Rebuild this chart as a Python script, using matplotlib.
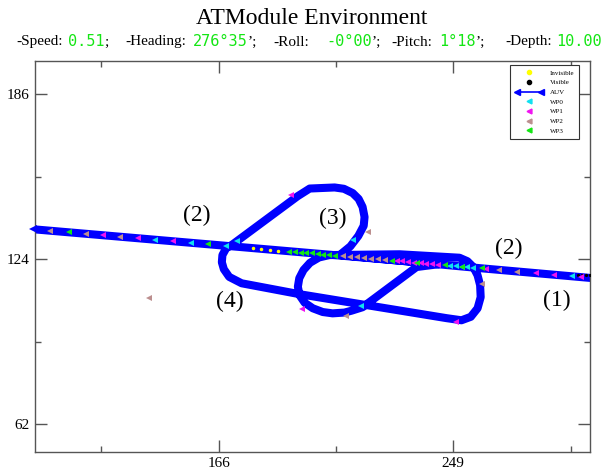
'''
Plot the ATModule environment view: AUV track, waypoints and status line
'''

import matplotlib
matplotlib.use('Agg')
from matplotlib import pyplot
from matplotlib.lines import Line2D
from matplotlib.legend_handler import HandlerLine2D

# AUV track (x, y in map units)
track_x = [297.6, 258.2, 208.8, 212.6, 215.4, 217.3, 217.6, 216.9, 215.5, 213.4, 210.3,
           207.0, 198.2, 193.9, 171.0, 168.6, 167.3, 167.1, 167.8, 169.7, 174.1, 194.6,
           246.6, 251.9, 255.2, 257.6, 258.7, 258.5, 257.6, 256.1, 254.0, 251.2, 230.0,
           205.2, 201.5, 198.3, 196.0, 194.5, 194.0, 194.6, 196.4, 199.3, 202.8, 206.3,
           210.5, 213.0, 216.9, 236.0, 244.1, 100.3]
track_y = [116.9, 120.6, 125.5, 128.8, 132.7, 136.5, 139.8, 143.6, 146.6, 148.8, 150.4,
           150.9, 150.5, 147.6, 129.6, 128.0, 125.5, 122.8, 120.2, 117.3, 114.9, 110.8,
           101.8, 101.0, 102.3, 105.5, 109.7, 114.2, 117.9, 121.0, 123.2, 124.5, 125.8,
           125.5, 124.6, 122.6, 119.9, 116.8, 113.6, 110.4, 107.6, 105.5, 104.1, 103.6,
           103.9, 104.6, 105.9, 121.0, 122.1, 135.2]

# waypoints seen along the track
wp0_x = [143.4, 156.1, 168.5, 172.4, 213.4, 216.5, 248.0, 250.0, 252.0, 254.0, 256.0, 291.1]
wp0_y = [131.2, 130.0, 128.9, 130.7, 131.1, 106.3, 121.5, 121.3, 121.1, 120.9, 120.8, 117.5]

wp1_x = [125.0, 137.4, 149.8, 191.5, 195.3, 229.0, 231.0, 233.0, 235.0, 237.5, 239.5,
         241.5, 243.5, 250.1, 260.5, 278.4, 284.7, 294.3]
wp1_y = [132.9, 131.8, 130.6, 148.0, 105.2, 123.3, 123.1, 122.9, 122.7, 122.5, 122.3,
         122.1, 121.9, 100.3, 120.3, 118.7, 118.1, 117.2]

wp2_x = [106.3, 119.0, 131.0, 141.3, 210.9, 218.7, 259.3, 210.0, 212.5, 215.0, 217.5,
         220.0, 222.5, 225.0, 265.3, 271.7]
wp2_y = [134.6, 133.5, 132.4, 109.3, 102.5, 134.1, 114.6, 125.0, 124.8, 124.6, 124.3,
         124.1, 123.9, 123.6, 119.9, 119.3]

wp3_x = [113.0, 162.1, 191.0, 193.0, 195.0, 197.0, 199.0, 201.0, 203.0, 205.0, 207.0,
         227.2, 236.0, 245.9, 252.2, 259.3]
wp3_y = [134.0, 129.5, 126.8, 126.6, 126.4, 126.2, 126.1, 125.9, 125.7, 125.5, 125.3,
         123.4, 122.6, 121.7, 121.1, 120.5]

invisible_x = [178.0, 181.0, 184.0, 187.0]
invisible_y = [128.0, 127.7, 127.4, 127.2]
visible_x = [291.5, 293.0, 294.5, 296.0, 297.5]
visible_y = [118.0, 118.0, 118.0, 118.0, 118.0]

auv_x = [100.3]
auv_y = [135.2]

# manoeuvre labels
man_labels = ['(2)', '(3)', '(2)', '(4)', '(1)']
man_x = [158.2, 206.3, 268.8, 169.9, 285.5]
man_y = [140.5, 139.4, 128.1, 108.2, 108.6]

# status line
status_names = ['-Speed:', '-Heading:', '-Roll:', '-Pitch:', '-Depth:']
status_values = ['0.51', '276\u00b035', '-0\u00b000', '1\u00b018', '10.00']
status_units = [';', '\u2019;', '\u2019;', '\u2019;', '']

serif = 'Liberation Serif'
mono = 'DejaVu Sans Mono'
green = '#14e614'
blue = '#0000ff'

fig = pyplot.figure(figsize=(6.12, 4.71), dpi=100)
ax = fig.add_axes([0.0564, 0.0403, 0.9077, 0.8301])

ax.plot(track_x, track_y, color=blue, linewidth=5.8, solid_joinstyle='round',
        solid_capstyle='butt', zorder=2)
ax.plot(invisible_x, invisible_y, 'o', color='yellow', markersize=1.5, zorder=3)
ax.plot(visible_x, visible_y, 'o', color='black', markersize=1.3, zorder=3)
ax.plot(wp0_x, wp0_y, '<', color='#10e0f0', markersize=4.8, markeredgewidth=0, zorder=4)
ax.plot(wp1_x, wp1_y, '<', color='#f014f0', markersize=4.8, markeredgewidth=0, zorder=4)
ax.plot(wp2_x, wp2_y, '<', color='#bc8f8f', markersize=4.8, markeredgewidth=0, zorder=4)
ax.plot(wp3_x, wp3_y, '<', color=green, markersize=4.8, markeredgewidth=0, zorder=4)
ax.plot(auv_x, auv_y, '<', color=blue, markersize=6, markeredgewidth=0, zorder=4,
        clip_on=False)

for lab, x, y in zip(man_labels, man_x, man_y):
    ax.text(x, y, lab, fontsize=17, family=serif, ha='center', va='center')

ax.set_xlim(100.8, 297.4)
ax.set_ylim(51.5, 198.4)
ax.set_xticks([166, 249])
ax.set_xticks([124.5, 207.5, 290.5], minor=True)
ax.set_yticks([62, 124, 186])
ax.set_yticks([93, 155], minor=True)
ax.tick_params(which='both', direction='in', top=True, right=True, color='#555555',
               labelsize=11, width=1)
ax.tick_params(which='major', length=8.5, pad=3.5)
ax.tick_params(which='minor', length=4)
for lab in ax.get_xticklabels() + ax.get_yticklabels():
    lab.set_family(serif)
for sp in ax.spines.values():
    sp.set_color('#555555')
    sp.set_linewidth(1)

# legend
h_inv = Line2D([], [], marker='o', linestyle='none', color='yellow', markersize=3)
h_vis = Line2D([], [], marker='o', linestyle='none', color='black', markersize=3)
h_auv = Line2D([], [], marker='<', color=blue, markersize=5, linewidth=1.2)
h_wp0 = Line2D([], [], marker='<', linestyle='none', color='#10e0f0', markersize=3.5)
h_wp1 = Line2D([], [], marker='<', linestyle='none', color='#f014f0', markersize=3.5)
h_wp2 = Line2D([], [], marker='<', linestyle='none', color='#bc8f8f', markersize=3.5)
h_wp3 = Line2D([], [], marker='<', linestyle='none', color=green, markersize=3.5)
leg = ax.legend([h_inv, h_vis, h_auv, h_wp0, h_wp1, h_wp2, h_wp3],
                ['Invisible', 'Visible', 'AUV', 'WP0', 'WP1', 'WP2', 'WP3'],
                loc='upper right', bbox_to_anchor=(0.980, 0.990), borderaxespad=0,
                numpoints=1, handler_map={h_auv: HandlerLine2D(numpoints=2)},
                prop={'family': serif, 'size': 5}, fancybox=False, framealpha=1,
                edgecolor='#333333', handlelength=4, handletextpad=1.0,
                labelspacing=0.55, borderpad=0.7)
leg.get_frame().set_linewidth(0.8)

# title and status line
fig.text(312 / 612., 1 - 18 / 471., 'ATModule Environment', fontsize=17, family=serif,
         ha='center', va='center')
name_px = [16, 125, 273, 391, 505]
value_px = [68, 193, 326, 439, 556]
ypos = 1 - 42 / 471.
renderer = fig.canvas.get_renderer()
for i in range(len(status_names)):
    fig.text(name_px[i] / 612., ypos, status_names[i], fontsize=11, family=serif,
             ha='left', va='center')
    val = fig.text(value_px[i] / 612., ypos, status_values[i], fontsize=11, family=mono,
                   color=green, ha='left', va='center')
    if status_units[i]:
        x_end = val.get_window_extent(renderer).x1
        fig.text(x_end / fig.bbox.width, ypos, status_units[i], fontsize=11,
                 family=serif, ha='left', va='center')

pyplot.savefig('out.png', dpi=100)
